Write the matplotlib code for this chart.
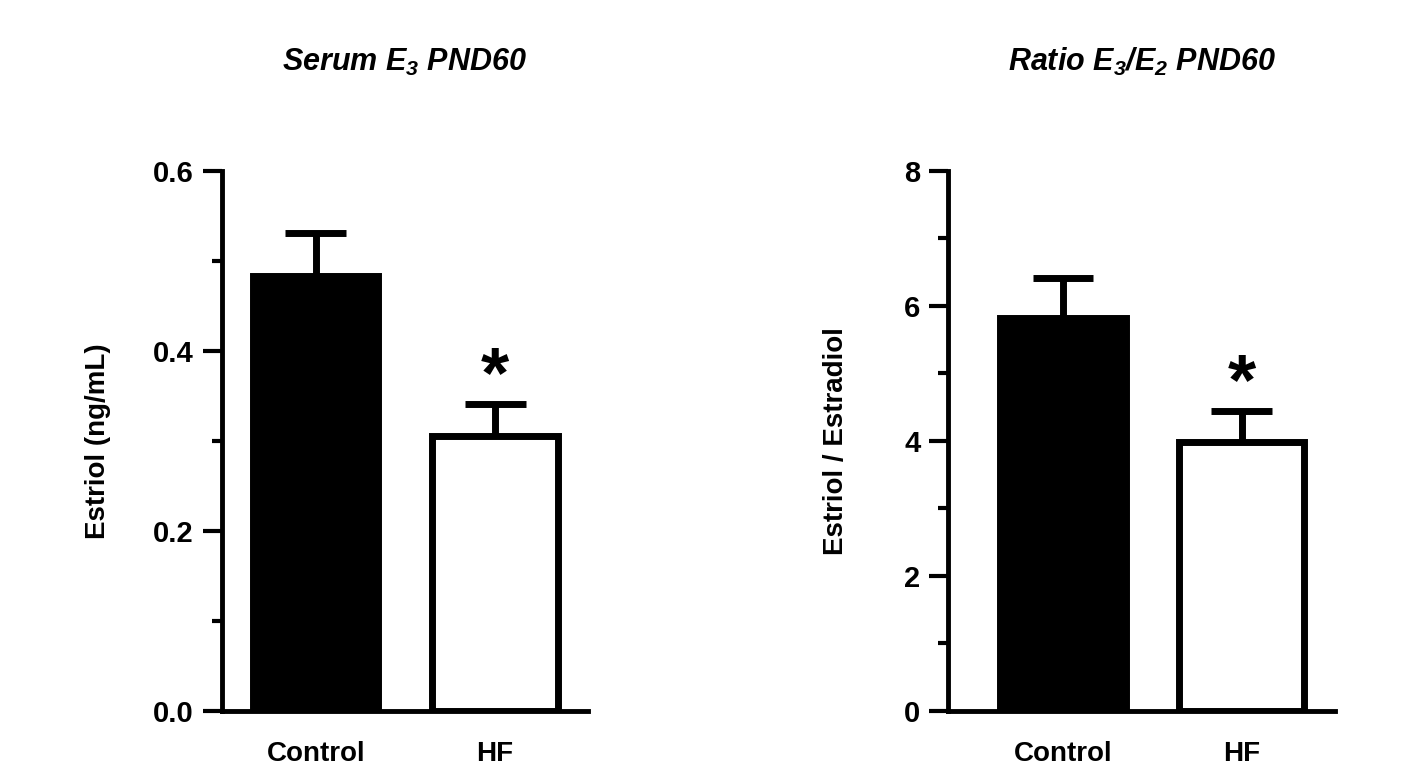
import matplotlib.pyplot as plt
import numpy as np

groups = ["Control", "HF"]
serum_e3 = [0.483, 0.305]
serum_e3_sem = [0.048, 0.036]
ratio_e3_e2 = [5.82, 3.98]
ratio_e3_e2_sem = [0.59, 0.46]
significant = [False, True]

plt.rcParams['font.family'] = ['Liberation Sans', 'DejaVu Sans']
plt.rcParams['font.weight'] = 'bold'
plt.rcParams['mathtext.fontset'] = 'custom'
plt.rcParams['mathtext.rm'] = 'Liberation Sans:italic:bold'
plt.rcParams['mathtext.it'] = 'Liberation Sans:italic:bold'


def panel(ax, vals, sems, title, ylabel, ymax, major, minor, fmt, xleft, lpad):
	x = np.arange(len(vals))
	lw = 5
	# error bars (upper only)
	tops = np.array(vals) + np.array(sems)
	ax.vlines(x, vals, tops, color="black", lw=lw, zorder=1)
	ax.hlines(tops, x - 0.17, x + 0.17, color="black", lw=lw, zorder=1)
	ax.bar(x, vals, width=0.70, color=["black", "white"], edgecolor="black",
		linewidth=lw, zorder=2)
	for i in range(len(vals)):
		if significant[i]:
			ax.annotate("*", (x[i], tops[i]), xytext=(0, -6), textcoords="offset points",
				ha="center", va="bottom", fontsize=52, fontweight="bold")
	ax.set_xlim(xleft, 1.52)
	ax.set_ylim(0, ymax)
	ax.set_yticks(major)
	ax.set_yticks(minor, minor=True)
	ax.set_yticklabels([fmt % v for v in major])
	ax.set_xticks(x)
	ax.set_xticklabels(groups, fontsize=20, fontweight="bold")
	ax.tick_params(axis="x", length=0, pad=22)
	ax.tick_params(axis="y", which="major", length=14, width=3, labelsize=21, pad=6)
	ax.tick_params(axis="y", which="minor", length=7, width=3)
	for s in ["top", "right"]:
		ax.spines[s].set_visible(False)
	for s in ["left", "bottom"]:
		ax.spines[s].set_linewidth(3.5)
	ax.spines["left"].set_bounds(0, ymax)
	ax.set_ylabel(ylabel, fontsize=20, fontweight="bold", labelpad=lpad)
	ax.set_title(title, fontsize=22, fontweight="bold", fontstyle="italic", pad=72)


fig = plt.figure(figsize=(14.11, 7.76), dpi=100)
ax1 = fig.add_axes([0.157, 0.084, 0.26, 0.696])
ax2 = fig.add_axes([0.672, 0.084, 0.274, 0.696])

panel(ax1, serum_e3, serum_e3_sem, r"Serum $E_3$ PND60", "Estriol (ng/mL)",
	0.6, [0.0, 0.2, 0.4, 0.6], [0.1, 0.3, 0.5], "%.1f", -0.525, 30)
panel(ax2, ratio_e3_e2, ratio_e3_e2_sem, r"Ratio $E_3$/$E_2$ PND60", "Estriol / Estradiol",
	8, [0, 2, 4, 6, 8], [1, 3, 5, 7], "%d", -0.642, 40)

for ax in (ax1, ax2):
	for lab in ax.get_yticklabels():
		lab.set_fontweight("bold")

plt.savefig("out.png", dpi=100)
